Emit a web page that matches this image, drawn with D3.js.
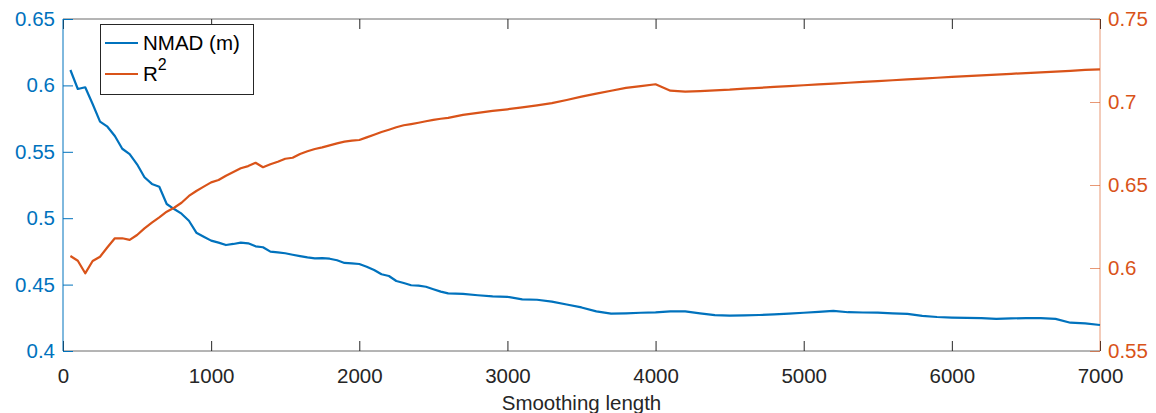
<!DOCTYPE html>
<html>
<head>
<meta charset="utf-8">
<script src="https://cdn.jsdelivr.net/npm/d3@7"></script>
<style>
  body { margin: 0; background: #fff; }
  svg { font-family: "Liberation Sans", Arial, sans-serif; }
</style>
</head>
<body>
<svg width="1156" height="413"></svg>
<script>
  // smoothing length (x) values
  const lengths = [
    50, 100, 150, 200, 250, 300, 350, 400, 450, 500, 550, 600, 650, 700, 750, 800, 850, 900, 950, 1000,
    1050, 1100, 1150, 1200, 1250, 1300, 1350, 1400, 1450, 1500, 1550, 1600, 1650, 1700, 1750, 1800, 1850, 1900, 1950, 2000,
    2050, 2100, 2150, 2200, 2250, 2300, 2350, 2400, 2450, 2500, 2550, 2600,
    2700, 2800, 2900, 3000, 3100, 3200, 3300, 3400, 3500, 3600, 3700, 3800, 3900, 4000,
    4100, 4200, 4300, 4400, 4500, 4600, 4700, 4800, 4900, 5000, 5100, 5200, 5300, 5400, 5500,
    5600, 5700, 5800, 5900, 6000, 6100, 6200, 6300, 6400, 6500, 6600, 6700, 6800, 6900, 7000
  ];

  const nmad = [
    0.6116, 0.5973, 0.5986, 0.5860, 0.5727, 0.5689, 0.5619, 0.5523, 0.5483, 0.5406, 0.5308, 0.5258, 0.5237, 0.5107, 0.5069, 0.5034, 0.4981, 0.4891, 0.4861, 0.4831,
    0.4816, 0.4798, 0.4806, 0.4816, 0.4811, 0.4788, 0.4781, 0.4748, 0.4743, 0.4736, 0.4725, 0.4715, 0.4705, 0.4698, 0.4700, 0.4695, 0.4683, 0.4663, 0.4660, 0.4655,
    0.4635, 0.4610, 0.4578, 0.4565, 0.4527, 0.4512, 0.4495, 0.4492, 0.4484, 0.4465, 0.4447, 0.4434,
    0.4430, 0.4420, 0.4412, 0.4408, 0.4389, 0.4386, 0.4372, 0.4350, 0.4328, 0.4298, 0.4281, 0.4284, 0.4288, 0.4291,
    0.4298, 0.4298, 0.4284, 0.4270, 0.4266, 0.4268, 0.4271, 0.4276, 0.4282, 0.4288, 0.4295, 0.4302, 0.4292, 0.4290, 0.4289,
    0.4284, 0.4280, 0.4264, 0.4256, 0.4252, 0.4249, 0.4247, 0.4242, 0.4246, 0.4247, 0.4248, 0.4242, 0.4213, 0.4208, 0.4196
  ];

  const r2 = [
    0.6072, 0.6044, 0.5968, 0.6042, 0.6068, 0.6125, 0.6179, 0.6179, 0.6169, 0.6199, 0.6239, 0.6273, 0.6305, 0.6339, 0.6363, 0.6393, 0.6434, 0.6464, 0.6490, 0.6516,
    0.6530, 0.6556, 0.6578, 0.6601, 0.6614, 0.6634, 0.6607, 0.6625, 0.6640, 0.6658, 0.6664, 0.6687, 0.6703, 0.6717, 0.6727, 0.6739, 0.6751, 0.6761, 0.6767, 0.6771,
    0.6787, 0.6803, 0.6819, 0.6833, 0.6848, 0.6860, 0.6867, 0.6875, 0.6884, 0.6892, 0.6899, 0.6904,
    0.6922, 0.6934, 0.6946, 0.6956, 0.6968, 0.6980, 0.6993, 0.7012, 0.7032, 0.7050, 0.7068, 0.7085, 0.7096, 0.7107,
    0.7068, 0.7063, 0.7066, 0.7070, 0.7074, 0.7080, 0.7085, 0.7091, 0.7096, 0.7101, 0.7106, 0.7111, 0.7116, 0.7121, 0.7126,
    0.7131, 0.7136, 0.7141, 0.7146, 0.7151, 0.7156, 0.7160, 0.7165, 0.7170, 0.7174, 0.7179, 0.7183, 0.7188, 0.7193, 0.7197
  ];

  const xTicks = [0, 1000, 2000, 3000, 4000, 5000, 6000, 7000];
  const leftTicks = [0.4, 0.45, 0.5, 0.55, 0.6, 0.65];
  const rightTicks = [0.55, 0.6, 0.65, 0.7, 0.75];

  const blue = "#0072BD";
  const orange = "#D95319";
  const dark = "#262626";

  const svg = d3.select("svg");
  const pL = 63, pR = 1100, pT = 19, pB = 351;

  const x = d3.scaleLinear().domain([0, 7000]).range([pL, pR]);
  const yL = d3.scaleLinear().domain([0.4, 0.65]).range([pB, pT]);
  const yR = d3.scaleLinear().domain([0.55, 0.75]).range([pB, pT]);

  const fmt = d => String(+d.toFixed(2));

  // bottom + top x axes, ticks point inward
  const xb = svg.append("g")
    .attr("transform", `translate(0,${pB})`)
    .call(d3.axisBottom(x).tickValues(xTicks).tickSize(-10).tickPadding(17).tickFormat(d3.format("d")));
  const xt = svg.append("g")
    .attr("transform", `translate(0,${pT})`)
    .call(d3.axisTop(x).tickValues(xTicks).tickSize(-10).tickFormat(""));

  const yl = svg.append("g")
    .attr("transform", `translate(${pL},0)`)
    .call(d3.axisLeft(yL).tickValues(leftTicks).tickSize(-10).tickPadding(8).tickFormat(fmt));
  const yr = svg.append("g")
    .attr("transform", `translate(${pR},0)`)
    .call(d3.axisRight(yR).tickValues(rightTicks).tickSize(-10).tickPadding(8).tickFormat(fmt));

  [xb, xt].forEach(g => {
    g.select(".domain").attr("stroke", "#6b6b6b").attr("d", `M${pL},0H${pR}`);
    g.selectAll(".tick line").attr("stroke", dark);
  });
  xb.selectAll("text").attr("fill", dark).attr("font-size", 20.5);

  yl.select(".domain").attr("stroke", blue).attr("d", `M0,${pT}V${pB}`);
  yl.selectAll(".tick line").attr("stroke", blue);
  yl.selectAll("text").attr("fill", blue).attr("font-size", 20.5);

  yr.select(".domain").attr("stroke", orange).attr("stroke-opacity", 0.6).attr("d", `M0,${pT}V${pB}`);
  yr.selectAll(".tick line").attr("stroke", orange).attr("stroke-opacity", 0.6);
  yr.selectAll("text").attr("fill", orange).attr("font-size", 20.5);

  svg.append("text")
    .attr("x", (pL + pR) / 2)
    .attr("y", 410)
    .attr("text-anchor", "middle")
    .attr("font-size", 20.5)
    .attr("fill", dark)
    .text("Smoothing length");

  const pts = lengths.map((d, i) => ({ x: d, a: nmad[i], b: r2[i] }));

  svg.append("path")
    .datum(pts)
    .attr("fill", "none")
    .attr("stroke", blue)
    .attr("stroke-width", 2.2)
    .attr("stroke-linejoin", "round")
    .attr("d", d3.line().x(d => x(d.x)).y(d => yL(d.a)));

  svg.append("path")
    .datum(pts)
    .attr("fill", "none")
    .attr("stroke", orange)
    .attr("stroke-width", 2.2)
    .attr("stroke-linejoin", "round")
    .attr("d", d3.line().x(d => x(d.x)).y(d => yR(d.b)));

  // legend
  const lg = svg.append("g");
  lg.append("rect")
    .attr("x", 100.5).attr("y", 24.5).attr("width", 153).attr("height", 70)
    .attr("fill", "#fff").attr("stroke", dark).attr("stroke-width", 1);
  const items = [
    { label: "NMAD (m)", color: blue, y: 43 },
    { label: "R", sup: "2", color: orange, y: 74 }
  ];
  items.forEach(it => {
    lg.append("line")
      .attr("x1", 105).attr("x2", 138).attr("y1", it.y).attr("y2", it.y)
      .attr("stroke", it.color).attr("stroke-width", 2);
    const t = lg.append("text")
      .attr("x", 143).attr("y", it.y + 7)
      .attr("font-size", 20.5).attr("fill", "#000")
      .text(it.label);
    if (it.sup) {
      t.append("tspan").attr("dy", -11).attr("font-size", 16).text(it.sup);
    }
  });
</script>
</body>
</html>
